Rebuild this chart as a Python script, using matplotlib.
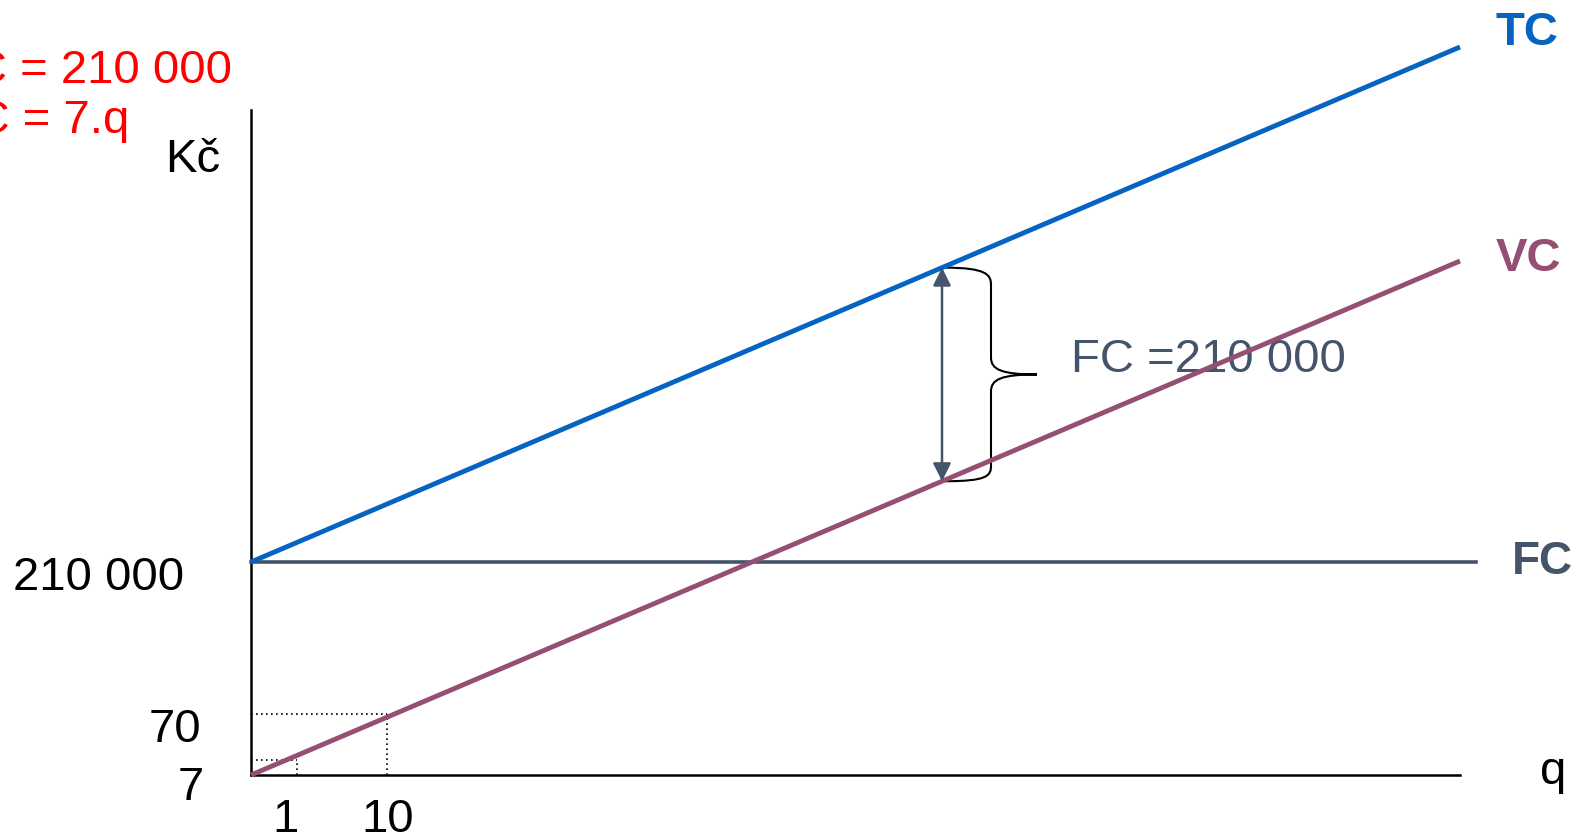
"""
Schematic of fixed, variable and total costs (FC, VC, TC) against output q.
The diagram is not to scale: positions are schematic units (about 1 px each).
"""

import matplotlib
matplotlib.use("Agg")
import matplotlib.pyplot as plt
from matplotlib.path import Path
from matplotlib.patches import PathPatch

plt.rcParams["font.family"] = ["Liberation Sans", "DejaVu Sans"]

BLUE = "#0563C1"
PURPLE = "#954F72"
SLATE = "#44546A"
RED = "#FF0000"

# schematic positions along the axes
LINE_X = [0, 1209]
TC_Y = [213, 728]
VC_Y = [0, 514]
FC_X = [0, 1225]
FC_LEVEL = 213
Y_AXIS_TOP = 665

Q_TICKS = [46, 136]
Q_LABELS = ["1", "10"]
COST_TICKS = [15, 61]
COST_LABELS = ["7", "70"]
FC_LABEL = "210 000"

GAP_Q = 691  # where the FC gap between TC and VC is shown

EQUATIONS = ["FC = 210 000", "VC = 7.q"]


def line_at(xs, ys, x):
    return ys[0] + (ys[1] - ys[0]) * (x - xs[0]) / (xs[1] - xs[0])


def draw_brace(ax, x0, y_bot, y_top, width=92, color="black"):
    xm = x0 + width / 2
    xt = x0 + width
    ym = (y_bot + y_top) / 2
    verts = [
        (x0, y_top), (x0 + 41, y_top), (xm, y_top - 7), (xm, y_top - 17),
        (xm, ym + 17),
        (xm, ym + 5), (xm + 10, ym), (xt, ym),
        (xm + 10, ym), (xm, ym - 5), (xm, ym - 17),
        (xm, y_bot + 15),
        (xm, y_bot + 5), (x0 + 41, y_bot), (x0, y_bot),
    ]
    codes = [Path.MOVETO, Path.CURVE4, Path.CURVE4, Path.CURVE4,
             Path.LINETO,
             Path.CURVE4, Path.CURVE4, Path.CURVE4,
             Path.CURVE4, Path.CURVE4, Path.CURVE4,
             Path.LINETO,
             Path.CURVE4, Path.CURVE4, Path.CURVE4]
    ax.add_patch(PathPatch(Path(verts, codes), facecolor="none",
                           edgecolor=color, lw=1.5, zorder=3))


fig = plt.figure(figsize=(15.81, 8.33), dpi=100)
ax = fig.add_axes([0, 0, 1, 1])
ax.set_xlim(-251, 1330)
ax.set_ylim(-58, 775)
ax.axis("off")

# axes
ax.plot([0, LINE_X[1]], [0, 0], color="black", lw=1.8, zorder=2)
ax.plot([0, 0], [0, Y_AXIS_TOP], color="black", lw=1.8, zorder=2)

# dotted guides for q = 1 and q = 10
for qx, cy in zip(Q_TICKS, COST_TICKS):
    ax.plot([0, qx], [cy, cy], color="black", lw=1.2, ls=(0, (1, 2)), zorder=1)
    ax.plot([qx, qx], [0, cy], color="black", lw=1.2, ls=(0, (1, 2)), zorder=1)

# cost lines
ax.plot(FC_X, [FC_LEVEL, FC_LEVEL], color=SLATE, lw=2.6, zorder=3)
ax.plot(LINE_X, VC_Y, color=PURPLE, lw=3.5, solid_capstyle="butt", zorder=4)
ax.plot(LINE_X, TC_Y, color=BLUE, lw=3.5, solid_capstyle="butt", zorder=4)

# FC gap arrow and brace
y_tc = line_at(LINE_X, TC_Y, GAP_Q)
y_vc = line_at(LINE_X, VC_Y, GAP_Q)
ax.annotate("", xy=(GAP_Q, y_tc), xytext=(GAP_Q, y_vc),
            arrowprops=dict(arrowstyle="<|-|>", color=SLATE, lw=1.8,
                            mutation_scale=27, shrinkA=0, shrinkB=0),
            zorder=5)
draw_brace(ax, GAP_Q + 3, y_vc, y_tc)
ax.text(820, 403, "FC =" + FC_LABEL, fontsize=34, color=SLATE,
        ha="left", va="baseline", zorder=2)

# tick labels
ax.text(-67, 185, FC_LABEL, fontsize=34, ha="right", va="baseline")
ax.text(-50, 33, COST_LABELS[1], fontsize=34, ha="right", va="baseline")
ax.text(-47, -25, COST_LABELS[0], fontsize=34, ha="right", va="baseline")
ax.text(34, -57, Q_LABELS[0], fontsize=34, ha="center", va="baseline")
ax.text(137, -57, Q_LABELS[1], fontsize=34, ha="center", va="baseline")

# axis names
ax.text(-31, 603, "Kč", fontsize=34, ha="right", va="baseline")
ax.text(1302, -9, "q", fontsize=34, ha="center", va="baseline")

# curve names
ax.text(1276, 730, "TC", fontsize=34, fontweight="bold", color=BLUE,
        ha="center", va="baseline")
ax.text(1277, 504, "VC", fontsize=34, fontweight="bold", color=PURPLE,
        ha="center", va="baseline")
ax.text(1291, 201, "FC", fontsize=33, fontweight="bold", color=SLATE,
        ha="center", va="baseline")

# equations (partly cut off at the left edge, as in the slide)
ax.text(-19, 692, EQUATIONS[0], fontsize=34, color=RED, ha="right", va="baseline")
ax.text(-122, 642, EQUATIONS[1], fontsize=34, color=RED, ha="right", va="baseline")

fig.savefig("out.png", dpi=100)
